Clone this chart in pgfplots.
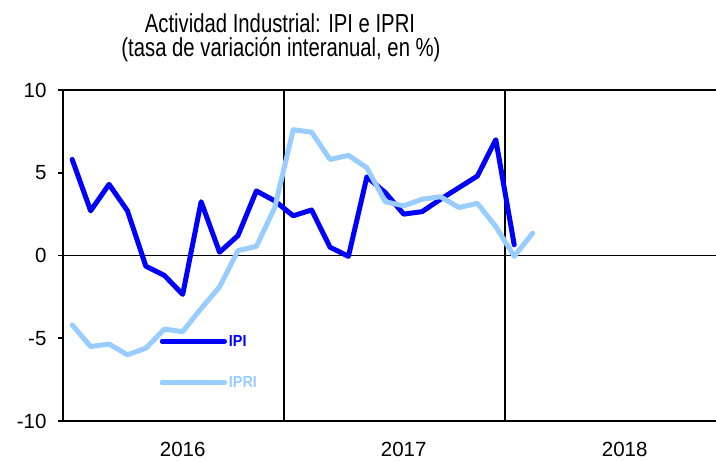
\documentclass[border=0pt]{standalone}
\usepackage{pgfplots}
\pgfplotsset{compat=1.18}
\usepackage{fontspec}
\setmainfont{Liberation Sans}
\newfontfamily\titlefont{Liberation Sans}[FakeStretch=0.78]
\newfontfamily\legfont{Liberation Sans}[FakeStretch=0.9]
\definecolor{ipi}{HTML}{0000FF}
\definecolor{ipri}{HTML}{99CCFF}
\pgfplotstableread{
x y
0.5 5.8
1.5 2.7
2.5 4.3
3.5 2.7
4.5 -0.65
5.5 -1.2
6.5 -2.35
7.5 3.25
8.5 0.2
9.5 1.2
10.5 3.9
11.5 3.3
12.5 2.4
13.5 2.75
14.5 0.5
15.5 -0.05
16.5 4.75
17.5 3.8
18.5 2.5
19.5 2.65
20.5 3.4
21.5 4.1
22.5 4.8
23.5 7.0
24.5 0.65
}\ipidata
\pgfplotstableread{
x y
0.5 -4.2
1.5 -5.5
2.5 -5.35
3.5 -6.0
4.5 -5.6
5.5 -4.45
6.5 -4.6
7.5 -3.2
8.5 -1.9
9.5 0.3
10.5 0.55
11.5 2.9
12.5 7.6
13.5 7.45
14.5 5.8
15.5 6.05
16.5 5.3
17.5 3.25
18.5 3.0
19.5 3.4
20.5 3.55
21.5 2.9
22.5 3.15
23.5 1.75
24.5 -0.05
25.5 1.35
}\ipridata
\begin{document}
\begin{tikzpicture}
\begin{axis}[
  at={(0pt,0pt)}, anchor=south west,
  scale only axis, width=663pt, height=331pt,
  xmin=0, xmax=36, ymin=-10, ymax=10,
  axis line style={black, line width=1.8pt},
  xtick={12,24}, xticklabels={}, xmajorgrids,
  major grid style={black, line width=1.6pt},
  xtick style={draw=none},
  extra x ticks={6.5,18.5,30.5},
  extra x tick labels={2016,2017,2018},
  extra x tick style={xmajorgrids=false, major tick length=0pt},
  ytick={-10,-5,0,5,10},
  ytick pos=left, tick align=outside, major tick length=5pt,
  ytick style={black, line width=1.6pt},
  extra y ticks={0}, extra y tick labels={},
  extra y tick style={ymajorgrids=true, major tick length=0pt},
  tick label style={font=\fontsize{20.5}{24}\selectfont},
  /pgf/number format/assume math mode=true,
  xticklabel style={yshift=-18pt},
  yticklabel style={xshift=-8pt},
  legend style={at={(axis description cs:0.146,0.266)}, anchor=north west, draw=none, fill=none,
     font=\legfont\fontsize{16}{19}\selectfont\bfseries, row sep=25pt, inner sep=0pt},
  legend cell align=left,
  legend image code/.code={\path (0pt,0pt) -- (62pt,0pt); \draw[#1] (0pt,0pt) -- (53pt,0pt);},
  clip=false,
]
\addplot[ipi, line width=5pt, line join=round, line cap=round] table {\ipidata};
\addlegendentry{\textcolor{ipi}{IPI}}
\addplot[ipri, line width=5pt, line join=round, line cap=round] table {\ipridata};
\addlegendentry{\textcolor{ipri}{IPRI}}
\end{axis}
\node[anchor=base, inner sep=0pt, font=\titlefont\fontsize{26}{30}\selectfont] at (217pt,388pt) {Actividad Industrial: IPI e IPRI};
\node[anchor=base, inner sep=0pt, font=\titlefont\fontsize{26}{30}\selectfont] at (218pt,364pt) {(tasa de variación interanual, en \%)};
\pgfresetboundingbox
\path[use as bounding box] (-63pt,-40pt) rectangle (653pt,421pt);
\end{tikzpicture}
\end{document}
